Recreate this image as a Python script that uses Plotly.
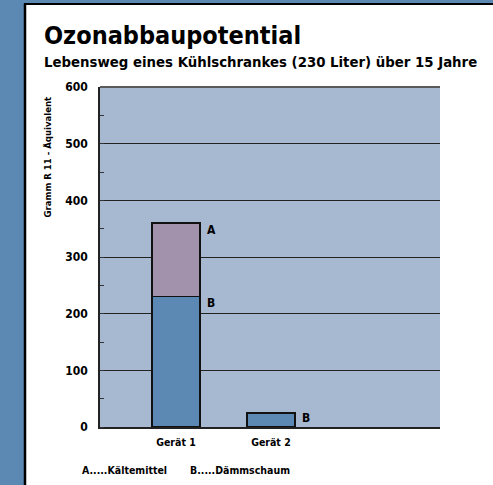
import plotly.graph_objects as go

categories = ["Gerät 1", "Gerät 2"]
daemmschaum_B = [230, 25]
kaeltemittel_A = [130, 0]
y_ticks = [0, 100, 200, 300, 400, 500, 600]

FONT = "Liberation Sans Narrow, DejaVu Sans Condensed, Arial Narrow, sans-serif"
BLUE = "#5b89b3"
LIGHT = "#a7b8d1"
MAUVE = "#a292ab"

W, H = 493, 485
L, R, T, B = 100, 53, 87, 58
pw, ph = W - L - R, H - T - B

def px(x):
    return (x - L) / pw

def py(y):
    return (H - B - y) / ph

xs = list(range(len(categories)))

fig = go.Figure()
fig.add_bar(x=xs, y=daemmschaum_B, name="B", marker=dict(color=BLUE, line=dict(color="#111", width=1.5)), width=0.505)
fig.add_bar(x=xs, y=kaeltemittel_A, name="A", marker=dict(color=MAUVE, line=dict(color="#111", width=1.5)), width=0.505)

shapes = [
    dict(type="rect", xref="paper", yref="paper", x0=px(25), x1=px(W + 5), y0=py(H + 5), y1=py(4), fillcolor="white", line=dict(width=0), layer="below"),
    dict(type="rect", xref="paper", yref="paper", x0=0, x1=1, y0=0, y1=1, fillcolor=LIGHT, line=dict(width=0), layer="below"),
    dict(type="line", xref="paper", yref="paper", x0=px(25), x1=px(25), y0=py(H + 5), y1=py(3.5), line=dict(color="black", width=2.5)),
    dict(type="line", xref="paper", yref="paper", x0=px(24), x1=px(W + 5), y0=py(4), y1=py(4), line=dict(color="black", width=2)),
    dict(type="line", xref="paper", yref="paper", x0=0, x1=1, y0=1, y1=1, line=dict(color="#5a5a5a", width=2)),
]

annotations = [
    dict(text="<b>Ozonabbaupotential</b>", xref="paper", yref="paper", x=px(42), y=py(35), xanchor="left", yanchor="middle", showarrow=False, font=dict(family=FONT, size=25, color="black")),
    dict(text="<b>Lebensweg eines Kühlschrankes (230 Liter) über 15 Jahre</b>", xref="paper", yref="paper", x=px(42), y=py(61), xanchor="left", yanchor="middle", showarrow=False, font=dict(family=FONT, size=14.8, color="black")),
    dict(text="<b>Gramm R 11 - Äquivalent</b>", xref="paper", yref="paper", x=px(47), y=py(95), xanchor="center", yanchor="top", textangle=-90, showarrow=False, font=dict(family=FONT, size=9.5, color="black")),
    dict(text="<b>A.....Kältemittel       B.....Dämmschaum</b>", xref="paper", yref="paper", x=px(80), y=py(470), xanchor="left", yanchor="middle", showarrow=False, font=dict(family=FONT, size=10.5, color="black")),
]
for i in xs:
    total = daemmschaum_B[i] + kaeltemittel_A[i]
    if kaeltemittel_A[i] > 0:
        annotations.append(dict(text="<b>A</b>", x=i + 0.31, y=total - 12, xanchor="left", yanchor="middle", showarrow=False, font=dict(family=FONT, size=12, color="black")))
    annotations.append(dict(text="<b>B</b>", x=i + 0.31, y=daemmschaum_B[i] - 12 if daemmschaum_B[i] > 100 else daemmschaum_B[i] - 9, xanchor="left", yanchor="middle", showarrow=False, font=dict(family=FONT, size=12, color="black")))

fig.update_layout(
    width=W, height=H,
    margin=dict(l=L, r=R, t=T, b=B),
    paper_bgcolor=BLUE,
    plot_bgcolor="rgba(0,0,0,0)",
    barmode="stack",
    showlegend=False,
    shapes=shapes,
    annotations=annotations,
    font=dict(family=FONT, color="black"),
)
fig.update_xaxes(
    range=[-0.8, 2.78], tickvals=xs, ticktext=[f"<b>{c}</b>" for c in categories],
    tickfont=dict(family=FONT, size=10.5), showgrid=False, zeroline=False,
    showline=True, linecolor="#222", linewidth=2, ticks="", ticklabelstandoff=4,
)
fig.update_yaxes(
    range=[0, 600], tickvals=y_ticks, ticktext=[f"<b>{v}</b>" for v in y_ticks],
    tickfont=dict(family=FONT, size=12), showgrid=True, gridcolor="#222", gridwidth=1,
    zeroline=False, showline=True, linecolor="#222", linewidth=1.5,
    ticks="", ticklabelstandoff=8,
    minor=dict(dtick=50, ticks="inside", ticklen=4, tickcolor="#333", showgrid=False),
)

fig.write_html(
    "out.html",
    config={"displayModeBar": False},
    post_script="document.body.style.margin='0';document.body.style.overflow='hidden';",
)
